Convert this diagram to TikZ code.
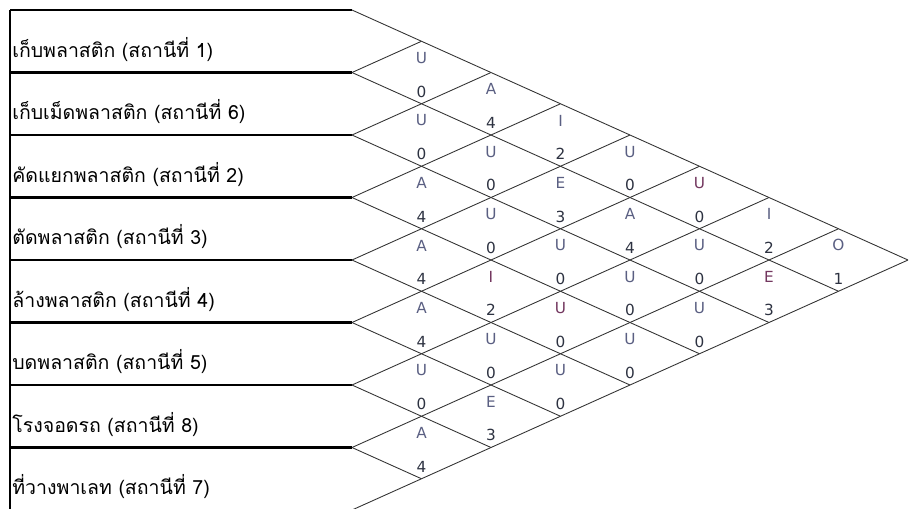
\documentclass[tikz,border=0pt]{standalone}
\usepackage{fontspec}
\newfontfamily\thaifont[Script=Thai]{Loma}
\newfontfamily\relfont{DejaVu Sans}
\usetikzlibrary{positioning}
\definecolor{relgray}{RGB}{90,95,130}
\definecolor{relpurple}{RGB}{115,55,95}
\definecolor{reldigit}{RGB}{45,50,65}
\tikzset{
  rowlbl/.style={anchor=base west,inner sep=0pt,font=\thaifont\fontsize{11.1}{13}\selectfont},
  rellet/.style={inner sep=0pt,font=\relfont\fontsize{8.7}{10}\selectfont},
  reldig/.style={inner sep=0pt,font=\relfont\fontsize{8.7}{10}\selectfont,text=reldigit},
}

\begin{document}
\begin{tikzpicture}[x=0.2mm,y=-0.2mm]
\clip (0,0) rectangle (910,508);
% activity column
\draw[line width=1.2pt] (10,10) -- (10,510);
\foreach \k in {0,...,8}{
  \pgfmathsetmacro{\yk}{10+62.5*\k}
  \draw[line width=1.2pt] (10,\yk) -- (352,\yk);
  \draw[line width=0.5pt,black!80] (352,\yk) -- ++({(8-\k)*69.5},{(8-\k)*31.25});
  \draw[line width=0.5pt,black!80] (352,\yk) -- ++({\k*69.5},{-\k*31.25});
}
\foreach \lbl [count=\i from 0] in {เก็บพลาสติก (สถานีที่ 1),เก็บเม็ดพลาสติก (สถานีที่ 6),คัดแยกพลาสติก (สถานีที่ 2),ตัดพลาสติก (สถานีที่ 3),ล้างพลาสติก (สถานีที่ 4),บดพลาสติก (สถานีที่ 5),โรงจอดรถ (สถานีที่ 8),ที่วางพาเลท (สถานีที่ 7)}
  \node[rowlbl] (row\i) at (12,{10+62.5*\i+47.25}) {\lbl};
% relationship diamonds
\foreach \i/\j/\r/\v/\c in {0/1/U/0/relgray,1/2/U/0/relgray,2/3/A/4/relgray,3/4/A/4/relgray,4/5/A/4/relgray,5/6/U/0/relgray,6/7/A/4/relgray,
  0/2/A/4/relgray,1/3/U/0/relgray,2/4/U/0/relgray,3/5/I/2/relpurple,4/6/U/0/relgray,5/7/E/3/relgray,
  0/3/I/2/relgray,1/4/E/3/relgray,2/5/U/0/relgray,3/6/U/0/relpurple,4/7/U/0/relgray,
  0/4/U/0/relgray,1/5/A/4/relgray,2/6/U/0/relgray,3/7/U/0/relgray,
  0/5/U/0/relpurple,1/6/U/0/relgray,2/7/U/0/relgray,
  0/6/I/2/relgray,1/7/E/3/relpurple,
  0/7/O/1/relgray}{
  \coordinate (m\i\j) at ({352+(\j-\i)*69.5},{10+31.25*(\i+\j+1)});
  \node[rellet,text=\c,above=1.7mm of m\i\j] (r\i\j) {\r};
  \node[reldig,below=2.6mm of m\i\j] (v\i\j) {\v};
}
\end{tikzpicture}
\end{document}
